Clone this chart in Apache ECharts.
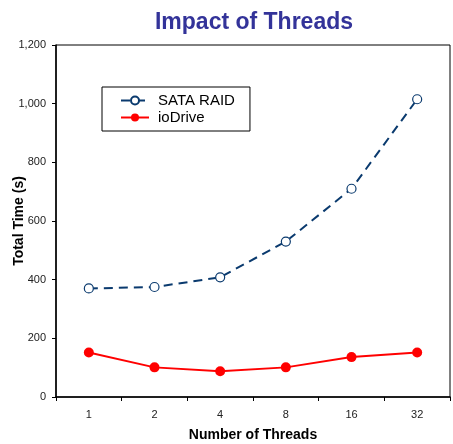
<!DOCTYPE html>
<html>
<head>
<meta charset="utf-8">
<script src="https://cdn.jsdelivr.net/npm/echarts@6/dist/echarts.min.js"></script>
<style>
  html, body { margin: 0; padding: 0; background: #fff; }
  #chart { width: 453px; height: 444px; }
</style>
</head>
<body>
<div id="chart"></div>
<script>
// thread counts on the x axis
const threads = ['1', '2', '4', '8', '16', '32'];
// total time in seconds
const sataRaid = [370, 375, 408, 530, 710, 1015];
const ioDrive = [152, 101, 88, 101, 136, 152];

const myChart = echarts.init(document.getElementById('chart'));
const font = 'Liberation Sans, Arial, sans-serif';

myChart.setOption({
    animation: false,
    title: {
        text: 'Impact of Threads',
        left: 249,
        textAlign: 'center',
        top: 6,
        textStyle: {
            fontFamily: font,
            fontSize: 23,
            fontWeight: 'bold',
            color: '#333399'
        }
    },
    legend: {
        orient: 'vertical',
        left: 102,
        top: 87,
        padding: [6, 15, 6, 18],
        itemGap: 2,
        itemWidth: 28,
        itemHeight: 10,
        borderColor: '#000',
        borderWidth: 1,
        textStyle: {
            fontFamily: font,
            fontSize: 15,
            color: '#000',
            padding: [0, 0, 0, 4]
        },
        data: ['SATA RAID', 'ioDrive']
    },
    grid: {
        left: 56,
        right: 3,
        top: 45,
        bottom: 47,
        outerBoundsMode: 'none',
        show: true,
        borderColor: '#000',
        borderWidth: 1
    },
    xAxis: {
        type: 'category',
        data: threads,
        name: 'Number of Threads',
        nameLocation: 'middle',
        nameGap: 31,
        nameTextStyle: {
            fontFamily: font,
            fontSize: 14,
            fontWeight: 'bold',
            color: '#000'
        },
        axisLine: { lineStyle: { color: '#000', width: 1.5 } },
        axisTick: { show: true, alignWithLabel: false, length: 4, lineStyle: { color: '#000' } },
        axisLabel: {
            fontFamily: font,
            fontSize: 11,
            color: '#222',
            margin: 12
        },
        splitLine: { show: false }
    },
    yAxis: {
        type: 'value',
        min: 0,
        max: 1200,
        interval: 200,
        name: 'Total Time (s)',
        nameLocation: 'middle',
        nameGap: 30,
        nameMoveOverlap: false,
        nameTextStyle: {
            fontFamily: font,
            fontSize: 14,
            fontWeight: 'bold',
            color: '#000'
        },
        axisLine: { show: true, lineStyle: { color: '#000', width: 1.5 } },
        axisTick: { show: true, length: 4, lineStyle: { color: '#000' } },
        axisLabel: {
            fontFamily: font,
            fontSize: 11,
            color: '#222',
            margin: 10,
            formatter: (v) => v.toLocaleString('en-US')
        },
        splitLine: { show: false }
    },
    series: [
        {
            name: 'SATA RAID',
            type: 'line',
            data: sataRaid,
            symbol: 'circle',
            symbolSize: 9,
            lineStyle: { color: '#0a3a6e', width: 2, type: [9, 6] },
            itemStyle: { color: '#fff', borderColor: '#0a3a6e', borderWidth: 1.2 }
        },
        {
            name: 'ioDrive',
            type: 'line',
            data: ioDrive,
            symbol: 'circle',
            symbolSize: 10,
            lineStyle: { color: '#ff0000', width: 2 },
            itemStyle: { color: '#ff0000' }
        }
    ]
});
</script>
</body>
</html>
